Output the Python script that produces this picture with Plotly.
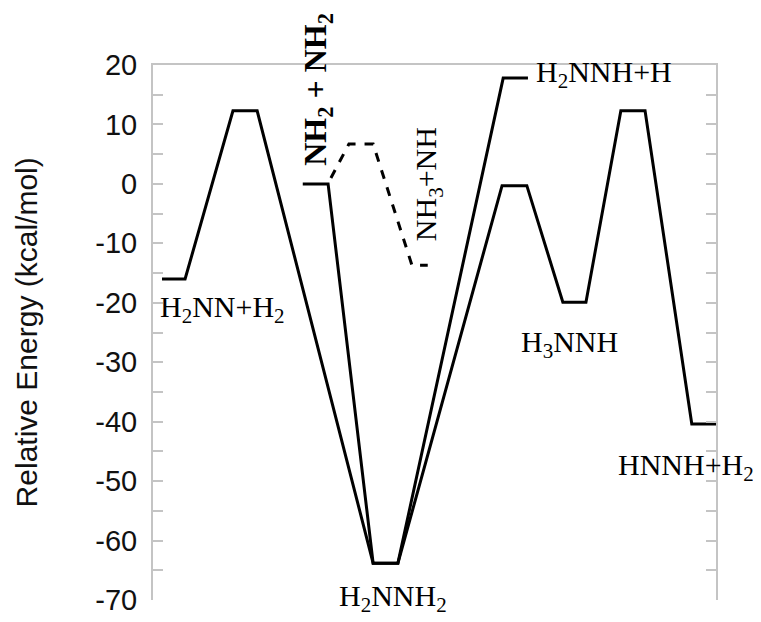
import plotly.graph_objects as go

# Reaction coordinate (arbitrary units 0-100) and relative energies (kcal/mol)
path_a_x = [1.6, 5.7, 14.2, 18.5, 39.1, 43.5, 62.0, 66.4, 72.8, 76.9, 83.1, 87.4, 95.7, 100.0]
path_a_e = [-16.0, -16.0, 12.3, 12.3, -63.8, -63.8, -0.3, -0.3, -19.9, -19.9, 12.3, 12.3, -40.4, -40.4]

path_b_x = [26.6, 31.1, 39.1, 43.5, 62.2, 66.6]
path_b_e = [0.0, 0.0, -63.8, -63.8, 17.8, 17.8]

path_c_x = [31.6, 34.8, 39.1, 46.0, 48.8]
path_c_e = [1.0, 6.7, 6.7, -13.7, -13.7]

label_text = ["H<sub>2</sub>NN+H<sub>2</sub>", "H<sub>2</sub>NNH<sub>2</sub>", "H<sub>3</sub>NNH",
              "HNNH+H<sub>2</sub>", "H<sub>2</sub>NNH+H"]
label_x = [0.9, 42.6, 65.0, 82.2, 67.7]
label_e = [-21.0, -69.6, -26.9, -47.6, 18.5]
label_anchor = ["left", "center", "left", "left", "left"]

rot_text = ["<b>NH<sub>2</sub> + NH<sub>2</sub></b>", "NH<sub>3</sub>+NH"]
rot_x = [29.3, 48.9]
rot_e = [16.0, 0.0]
rot_size = [32, 30]

y_ticks = [20, 10, 0, -10, -20, -30, -40, -50, -60, -70]
y_tick_text = ["20", "10", "0", "-10", "-20", "-30", "-40", "-50", "-60", "-70"]

fig = go.Figure()
line_style = dict(color="black", width=3)
fig.add_trace(go.Scatter(x=path_a_x, y=path_a_e, mode="lines", line=line_style))
fig.add_trace(go.Scatter(x=path_b_x, y=path_b_e, mode="lines", line=line_style))
fig.add_trace(go.Scatter(x=path_c_x, y=path_c_e, mode="lines",
                         line=dict(color="black", width=3, dash="9px,9px")))

serif = "Liberation Serif, Times New Roman, serif"
for t, x, y, a in zip(label_text, label_x, label_e, label_anchor):
    fig.add_annotation(x=x, y=y, text=t, showarrow=False, xanchor=a, yanchor="middle",
                       font=dict(family=serif, size=30, color="black"))
for t, x, y, s in zip(rot_text, rot_x, rot_e, rot_size):
    fig.add_annotation(x=x, y=y, text=t, showarrow=False, textangle=-90,
                       xanchor="center", yanchor="middle",
                       font=dict(family=serif, size=s, color="black"))

fig.add_annotation(x=-0.224, y=0.5, xref="paper", yref="paper", text="Relative Energy (kcal/mol)",
                   textangle=-90, showarrow=False, xanchor="center", yanchor="middle",
                   font=dict(family="Liberation Sans, Arial, sans-serif", size=30, color="#111"))

axis_grey = "#c4c4c4"
fig.update_layout(
    width=761, height=622,
    margin=dict(l=145, r=53, t=57, b=30),
    paper_bgcolor="white", plot_bgcolor="white",
    showlegend=False,
    xaxis=dict(range=[0, 100], side="top", showline=True, linecolor=axis_grey, linewidth=2,
               showgrid=False, zeroline=False, showticklabels=False, ticks=""),
    yaxis=dict(range=[-70, 20], showline=True, linecolor=axis_grey, linewidth=2, mirror="ticks",
               showgrid=False, zeroline=False, tickvals=y_ticks, ticktext=y_tick_text,
               ticks="inside", ticklen=10,
               tickwidth=2, tickcolor=axis_grey, ticklabelstandoff=8,
               tickfont=dict(family="Liberation Sans, Arial, sans-serif", size=29, color="#111"),
               minor=dict(dtick=5, ticks="inside", ticklen=10, tickwidth=2, tickcolor=axis_grey)),
)

fig.write_html("out.html")
